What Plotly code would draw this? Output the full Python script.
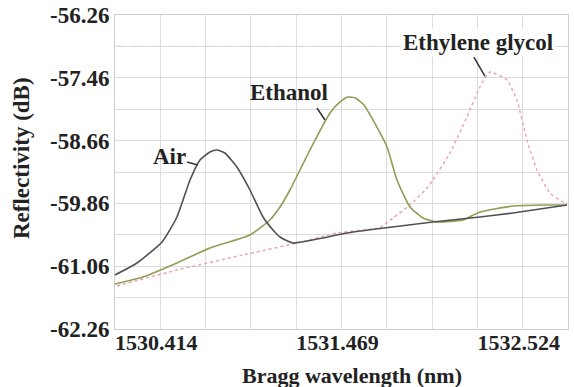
import plotly.graph_objects as go

# ---------------- data ----------------
air_wl = [1530.150, 1530.278, 1530.424, 1530.511, 1530.587, 1530.645, 1530.703, 1530.744,
          1530.790, 1530.860, 1530.936, 1531.012, 1531.070, 1531.111, 1531.186, 1531.501,
          1531.693, 1532.001, 1532.275, 1532.467, 1532.782]
air_db = [-61.228, -60.999, -60.598, -60.120, -59.413, -59.031, -58.878, -58.840,
          -58.897, -59.164, -59.604, -60.120, -60.368, -60.502, -60.617, -60.426,
          -60.340, -60.215, -60.120, -60.043, -59.891]

eth_wl = [1530.150, 1530.313, 1530.511, 1530.703, 1530.936, 1531.052, 1531.111, 1531.169,
          1531.285, 1531.402, 1531.460, 1531.507, 1531.550, 1531.600, 1531.652, 1531.734,
          1531.792, 1531.868, 1531.943, 1532.025, 1532.176, 1532.275, 1532.467, 1532.665, 1532.782]
eth_db = [-61.400, -61.266, -60.999, -60.712, -60.464, -60.177, -59.929, -59.604,
          -58.840, -58.133, -57.922, -57.827, -57.845, -57.980, -58.266, -58.782,
          -59.413, -59.929, -60.139, -60.215, -60.177, -60.024, -59.910, -59.891, -59.891]

eg_wl = [1530.162, 1530.511, 1530.895, 1531.210, 1531.443, 1531.693, 1531.769, 1531.868,
         1531.967, 1532.001, 1532.100, 1532.199, 1532.275, 1532.333, 1532.432, 1532.490,
         1532.549, 1532.607, 1532.683, 1532.758, 1532.782]
eg_db = [-61.438, -61.133, -60.846, -60.617, -60.426, -60.320, -60.139, -59.891,
         -59.565, -59.413, -58.900, -58.209, -57.636, -57.349, -57.502, -57.884,
         -58.649, -59.222, -59.661, -59.833, -59.852]

x_grid = [1530.15025 + 0.26375 * k for k in range(11)]
x_labels = ["", "1530.414", "", "", "", "1531.469", "", "", "", "1532.524", ""]
y_grid = [-62.26 + 0.6 * k for k in range(11)]
y_labels = ["-62.26", "", "-61.06", "", "-59.86", "", "-58.66", "", "-57.46", "", "-56.26"]

labels = ["Air", "Ethanol", "Ethylene glycol"]
label_wl = [1530.470, 1531.163, 1532.263]
label_db = [-58.973, -57.750, -56.776]
leader_wl = [(1530.569, 1530.633), (1531.326, 1531.373), (1532.240, 1532.304)]
leader_db = [(-59.069, -59.126), (-58.037, -58.266), (-57.063, -57.426)]
ref_line_db = -56.86

# ---------------- figure ----------------
FONT = "Liberation Serif, Times New Roman, serif"
fig = go.Figure()
fig.add_trace(go.Scatter(x=eg_wl, y=eg_db, mode="lines",
                         line=dict(color="#f2a2aa", width=1.5, dash="dot", shape="spline", smoothing=0.5)))
fig.add_trace(go.Scatter(x=eth_wl, y=eth_db, mode="lines",
                         line=dict(color="#8f9d55", width=1.6, shape="spline", smoothing=0.5)))
fig.add_trace(go.Scatter(x=air_wl, y=air_db, mode="lines",
                         line=dict(color="#505050", width=1.6, shape="spline", smoothing=0.5)))

fig.add_shape(type="line", xref="paper", x0=0, x1=1, yref="y", y0=ref_line_db, y1=ref_line_db,
              line=dict(color="#8a8a8a", width=1, dash="dash"), layer="below")

for t, xw, yd in zip(labels, label_wl, label_db):
    fig.add_annotation(x=xw, y=yd, xref="x", yref="y", text="<b>%s</b>" % t, showarrow=False,
                       font=dict(family=FONT, size=23, color="#222222"),
                       bgcolor="white" if t == "Ethylene glycol" else None)
for (xa, xb), (ya, yb) in zip(leader_wl, leader_db):
    fig.add_shape(type="line", x0=xa, x1=xb, y0=ya, y1=yb, xref="x", yref="y",
                  line=dict(color="#333333", width=1.5))

fig.add_annotation(x=0.523, y=-0.148, xref="paper", yref="paper", text="<b>Bragg wavelength (nm)</b>",
                   showarrow=False, font=dict(family=FONT, size=22, color="#222222"), yanchor="middle")
fig.add_annotation(x=-0.205, y=0.545, xref="paper", yref="paper", text="<b>Reflectivity (dB)</b>",
                   showarrow=False, textangle=-90, font=dict(family=FONT, size=23, color="#222222"),
                   xanchor="center", yanchor="middle")

fig.update_layout(
    width=574, height=387,
    margin=dict(l=115, r=6, t=15, b=58),
    paper_bgcolor="white", plot_bgcolor="white",
    showlegend=False,
    xaxis=dict(range=[x_grid[0], x_grid[-1]], tickmode="array", tickvals=x_grid,
               ticktext=["<b>%s</b>" % s if s else "" for s in x_labels],
               tickfont=dict(family=FONT, size=22, color="#222222"), automargin=False,
               ticklabelstandoff=-6, ticklabelshift=-4,
               showgrid=True, gridcolor="#dcdcdc", gridwidth=1, zeroline=False,
               showline=True, linecolor="#cfcfcf", mirror=True, ticks=""),
    yaxis=dict(range=[y_grid[0], y_grid[-1]], tickmode="array", tickvals=y_grid,
               ticktext=["<b>%s</b>" % s if s else "" for s in y_labels],
               tickfont=dict(family=FONT, size=23, color="#222222"), automargin=False,
               showgrid=True, gridcolor="#dcdcdc", gridwidth=1, zeroline=False,
               showline=True, linecolor="#cfcfcf", mirror=True, ticks=""),
)

fig.write_html("out.html", config={"displayModeBar": False},
               post_script="document.body.style.margin='0';document.body.style.overflow='hidden';")
